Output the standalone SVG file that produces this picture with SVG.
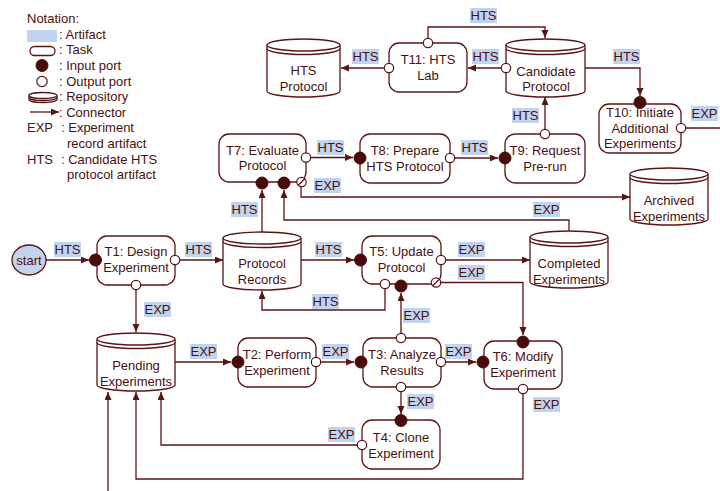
<svg xmlns="http://www.w3.org/2000/svg" width="720" height="491" viewBox="0 0 720 491">
<defs>
<marker id="ah" markerUnits="userSpaceOnUse" markerWidth="8" markerHeight="8" refX="8" refY="3.5" orient="auto">
<path d="M0,0 L8,3.5 L0,7 z" fill="#5a1414"/>
</marker>
</defs>
<style>
text{font-family:"Liberation Sans",Arial,sans-serif;font-size:13px;fill:#4a1010}
.m{text-anchor:middle}
.box{fill:#fff;stroke:#5a1414;stroke-width:1.3}
.cyl{fill:#fff;stroke:#5a1414;stroke-width:1.3}
.cl{fill:none;stroke:#5a1414;stroke-width:1.3}
.c{fill:none;stroke:#5a1414;stroke-width:1.3;marker-end:url(#ah)}
.cn{fill:none;stroke:#5a1414;stroke-width:1.3}
.in{fill:#4a0a0a;stroke:#4a0a0a;stroke-width:1}
.out{fill:#fff;stroke:#5a1414;stroke-width:1.2}
.lb{fill:#c2d3ef}
</style>
<rect width="720" height="491" fill="#fff"/>

<g id="legend">
<text x="27" y="23">Notation:</text>
<rect class="lb" x="27" y="30" width="30" height="12"/>
<text x="59" y="38.5">: Artifact</text>
<rect class="box" x="30" y="46.5" width="25" height="9" rx="4.5"/>
<text x="59" y="54">: Task</text>
<circle class="in" cx="42" cy="65.5" r="6"/>
<text x="59" y="69.5">: Input port</text>
<circle class="out" cx="42" cy="81.5" r="5.2"/>
<text x="59" y="85.5">: Output port</text>
<path class="cyl" d="M29,95.5 A14,3 0 0 1 57,95.5 V99.5 A14,3 0 0 1 29,99.5 Z"/>
<path class="cl" d="M29,95.5 A14,3 0 0 0 57,95.5 M29,97.5 A14,3 0 0 0 57,97.5"/>
<text x="59" y="101">: Repository</text>
<path class="c" d="M30,112 H59"/>
<text x="59" y="117">: Connector</text>
<text x="27" y="132">EXP</text>
<text x="61" y="132">: Experiment</text>
<text x="67" y="148">record artifact</text>
<text x="27" y="164">HTS</text>
<text x="61" y="164">: Candidate HTS</text>
<text x="67" y="179">protocol artifact</text>
</g>

<g id="connectors">
<path class="c" d="M46,260 H89"/>
<path class="c" d="M175,260 H223"/>
<path class="c" d="M136,285 V332"/>
<path class="c" d="M262,232 V190"/>
<path class="c" d="M301,260 H354"/>
<path class="c" d="M385,284 V310 H262 V291"/>
<path class="c" d="M441,260 H530"/>
<path class="c" d="M436,282.5 H523 V335"/>
<path class="c" d="M569,231 V220 H284 V190"/>
<path class="c" d="M301,182 V197 H630"/>
<path class="c" d="M306,157.5 H353"/>
<path class="c" d="M450,158 H498"/>
<path class="c" d="M545,134 V97"/>
<path class="c" d="M506,68 H468"/>
<path class="c" d="M585,68 H640 V96"/>
<path class="cn" d="M681,128 H720"/>
<path class="c" d="M428,43 V27 H545 V38"/>
<path class="c" d="M389,68 H341"/>
<path class="c" d="M175,362 H231"/>
<path class="c" d="M316,362 H354"/>
<path class="c" d="M401,338 V293"/>
<path class="c" d="M441,362 H476"/>
<path class="c" d="M401,387 V414"/>
<path class="c" d="M362,445 H161 V392"/>
<path class="c" d="M523,389 V479 H136 V392"/>
<path class="c" d="M108,491 V392"/>
</g>

<g id="labels">
<rect class="lb" x="54" y="242" width="27" height="15"/><text class="m" x="67.5" y="254">HTS</text>
<rect class="lb" x="185" y="242" width="27" height="15"/><text class="m" x="198.5" y="254">HTS</text>
<rect class="lb" x="144" y="302" width="27" height="15"/><text class="m" x="157.5" y="314">EXP</text>
<rect class="lb" x="231" y="202" width="27" height="15"/><text class="m" x="244.5" y="214">HTS</text>
<rect class="lb" x="315" y="242" width="27" height="15"/><text class="m" x="328.5" y="254">HTS</text>
<rect class="lb" x="312" y="294" width="27" height="15"/><text class="m" x="325.5" y="306">HTS</text>
<rect class="lb" x="403" y="308" width="27" height="15"/><text class="m" x="416.5" y="320">EXP</text>
<rect class="lb" x="458" y="242" width="27" height="15"/><text class="m" x="471.5" y="254">EXP</text>
<rect class="lb" x="458" y="265" width="27" height="15"/><text class="m" x="471.5" y="277">EXP</text>
<rect class="lb" x="533" y="202" width="27" height="15"/><text class="m" x="546.5" y="214">EXP</text>
<rect class="lb" x="314" y="178" width="27" height="15"/><text class="m" x="327.5" y="190">EXP</text>
<rect class="lb" x="317" y="140" width="27" height="15"/><text class="m" x="330.5" y="152">HTS</text>
<rect class="lb" x="461" y="140" width="27" height="15"/><text class="m" x="474.5" y="152">HTS</text>
<rect class="lb" x="512" y="108" width="27" height="15"/><text class="m" x="525.5" y="120">HTS</text>
<rect class="lb" x="472" y="49" width="27" height="15"/><text class="m" x="485.5" y="61">HTS</text>
<rect class="lb" x="613" y="49" width="27" height="15"/><text class="m" x="626.5" y="61">HTS</text>
<rect class="lb" x="470" y="8" width="27" height="15"/><text class="m" x="483.5" y="20">HTS</text>
<rect class="lb" x="352" y="49" width="27" height="15"/><text class="m" x="365.5" y="61">HTS</text>
<rect class="lb" x="691" y="106" width="27" height="15"/><text class="m" x="704.5" y="118">EXP</text>
<rect class="lb" x="190" y="344" width="27" height="15"/><text class="m" x="203.5" y="356">EXP</text>
<rect class="lb" x="322" y="344" width="27" height="15"/><text class="m" x="335.5" y="356">EXP</text>
<rect class="lb" x="445" y="344" width="27" height="15"/><text class="m" x="458.5" y="356">EXP</text>
<rect class="lb" x="407" y="394" width="27" height="15"/><text class="m" x="420.5" y="406">EXP</text>
<rect class="lb" x="328" y="427" width="27" height="15"/><text class="m" x="341.5" y="439">EXP</text>
<rect class="lb" x="533" y="397" width="27" height="15"/><text class="m" x="546.5" y="409">EXP</text>
</g>

<g id="start">
<ellipse cx="29" cy="260" rx="17" ry="15" fill="#c2d3ef" stroke="#5a1414" stroke-width="1.3"/>
<text class="m" x="29" y="264.5">start</text>
</g>

<g id="T1">
<rect class="box" x="97" y="236" width="78" height="49" rx="10"/>
<text class="m" x="136" y="255.5">T1: Design</text>
<text class="m" x="136" y="271.5">Experiment</text>
<circle class="in" cx="95.5" cy="260" r="6"/>
<circle class="out" cx="175" cy="260" r="4.7"/>
<circle class="out" cx="136" cy="285" r="4.7"/>
</g>

<g id="T5">
<rect class="box" x="362" y="236" width="79" height="48" rx="10"/>
<text class="m" x="401.5" y="255.5">T5: Update</text>
<text class="m" x="401.5" y="271.5">Protocol</text>
<circle class="in" cx="360.5" cy="260" r="6"/>
<circle class="out" cx="441" cy="260" r="4.7"/>
<circle class="out" cx="385" cy="284" r="4.7"/>
<circle class="in" cx="401" cy="286" r="6"/>
<circle class="out" cx="436" cy="282.5" r="4.7"/>
<path class="cl" d="M432.7,285.8 L439.3,279.2"/>
</g>

<g id="T7">
<rect class="box" x="219" y="134" width="87" height="48" rx="10"/>
<text class="m" x="262.5" y="154.5">T7: Evaluate</text>
<text class="m" x="262.5" y="170">Protocol</text>
<circle class="out" cx="306" cy="157.5" r="4.7"/>
<circle class="in" cx="262" cy="183" r="6"/>
<circle class="in" cx="284" cy="183" r="6"/>
<circle class="out" cx="301.5" cy="182" r="4.7"/>
<path class="cl" d="M298.2,185.3 L304.8,178.7"/>
</g>

<g id="T8">
<rect class="box" x="360" y="134" width="90" height="49" rx="10"/>
<text class="m" x="405" y="155">T8: Prepare</text>
<text class="m" x="405" y="170.5">HTS Protocol</text>
<circle class="in" cx="360" cy="158" r="6"/>
<circle class="out" cx="450" cy="158" r="4.7"/>
</g>

<g id="T9">
<rect class="box" x="505" y="134" width="80" height="49" rx="10"/>
<text class="m" x="545" y="155">T9: Request</text>
<text class="m" x="545" y="170.5">Pre-run</text>
<circle class="in" cx="505" cy="158" r="6"/>
<circle class="out" cx="545" cy="134" r="4.7"/>
</g>

<g id="T10">
<rect class="box" x="599" y="104" width="82" height="49" rx="10"/>
<text class="m" x="640" y="117">T10: Initiate</text>
<text class="m" x="640" y="132.5">Additional</text>
<text class="m" x="640" y="148">Experiments</text>
<circle class="in" cx="640" cy="102.5" r="6"/>
<circle class="out" cx="681" cy="128" r="4.7"/>
</g>

<g id="T11">
<rect class="box" x="389" y="43" width="78" height="49" rx="10"/>
<text class="m" x="428" y="64">T11: HTS</text>
<text class="m" x="428" y="80">Lab</text>
<circle class="out" cx="428" cy="43" r="4.7"/>
<circle class="out" cx="389" cy="68" r="4.7"/>
</g>

<g id="T2">
<rect class="box" x="238" y="338" width="78" height="49" rx="10"/>
<text class="m" x="277" y="358.5">T2: Perform</text>
<text class="m" x="277" y="374.5">Experiment</text>
<circle class="in" cx="238" cy="362" r="6"/>
<circle class="out" cx="316" cy="362" r="4.7"/>
</g>

<g id="T3">
<rect class="box" x="363" y="338" width="78" height="49" rx="10"/>
<text class="m" x="402" y="358.5">T3: Analyze</text>
<text class="m" x="402" y="374.5">Results</text>
<circle class="in" cx="361" cy="362" r="6"/>
<circle class="out" cx="401" cy="338" r="4.7"/>
<circle class="out" cx="441" cy="362" r="4.7"/>
<circle class="out" cx="401" cy="387" r="4.7"/>
</g>

<g id="T6">
<rect class="box" x="484" y="341" width="78" height="48" rx="10"/>
<text class="m" x="523" y="361">T6: Modify</text>
<text class="m" x="523" y="377">Experiment</text>
<circle class="in" cx="523" cy="342" r="6"/>
<circle class="in" cx="483" cy="362" r="6"/>
<circle class="out" cx="523" cy="389" r="4.7"/>
</g>

<g id="T4">
<rect class="box" x="362" y="420" width="78" height="49" rx="10"/>
<text class="m" x="401" y="441.5">T4: Clone</text>
<text class="m" x="401" y="457.5">Experiment</text>
<circle class="in" cx="401" cy="420.5" r="6"/>
<circle class="out" cx="362" cy="445" r="4.7"/>
</g>

<g id="HTSProtocol">
<path class="cyl" d="M267,45 A36.5,6 0 0 1 340,45 V91 A36.5,6 0 0 1 267,91 Z"/>
<path class="cl" d="M267,45 A36.5,6 0 0 0 340,45 M267,48.5 A36.5,6 0 0 0 340,48.5"/>
<text class="m" x="303.5" y="75">HTS</text>
<text class="m" x="303.5" y="91">Protocol</text>
</g>

<g id="CandidateProtocol">
<path class="cyl" d="M506,45 A39.5,6 0 0 1 585,45 V91 A39.5,6 0 0 1 506,91 Z"/>
<path class="cl" d="M506,45 A39.5,6 0 0 0 585,45 M506,48.5 A39.5,6 0 0 0 585,48.5"/>
<text class="m" x="546" y="76">Candidate</text>
<text class="m" x="546" y="91">Protocol</text>
<circle class="out" cx="506" cy="68" r="4.7"/>
</g>

<g id="ProtocolRecords">
<path class="cyl" d="M223,238 A39,6 0 0 1 301,238 V284 A39,6 0 0 1 223,284 Z"/>
<path class="cl" d="M223,238 A39,6 0 0 0 301,238 M223,241.5 A39,6 0 0 0 301,241.5"/>
<text class="m" x="262" y="267.5">Protocol</text>
<text class="m" x="262" y="283.5">Records</text>
</g>

<g id="CompletedExperiments">
<path class="cyl" d="M530,237 A39,6 0 0 1 608,237 V282 A39,6 0 0 1 530,282 Z"/>
<path class="cl" d="M530,237 A39,6 0 0 0 608,237 M530,240.5 A39,6 0 0 0 608,240.5"/>
<text class="m" x="569" y="268">Completed</text>
<text class="m" x="569" y="283.5">Experiments</text>
</g>

<g id="ArchivedExperiments">
<path class="cyl" d="M630,174 A39,6 0 0 1 708,174 V219 A39,6 0 0 1 630,219 Z"/>
<path class="cl" d="M630,174 A39,6 0 0 0 708,174 M630,177.5 A39,6 0 0 0 708,177.5"/>
<text class="m" x="669" y="205">Archived</text>
<text class="m" x="669" y="221">Experiments</text>
</g>

<g id="PendingExperiments">
<path class="cyl" d="M97,339 A39,6 0 0 1 175,339 V385 A39,6 0 0 1 97,385 Z"/>
<path class="cl" d="M97,339 A39,6 0 0 0 175,339 M97,342.5 A39,6 0 0 0 175,342.5"/>
<text class="m" x="136" y="369.5">Pending</text>
<text class="m" x="136" y="385.5">Experiments</text>
</g>
</svg>
